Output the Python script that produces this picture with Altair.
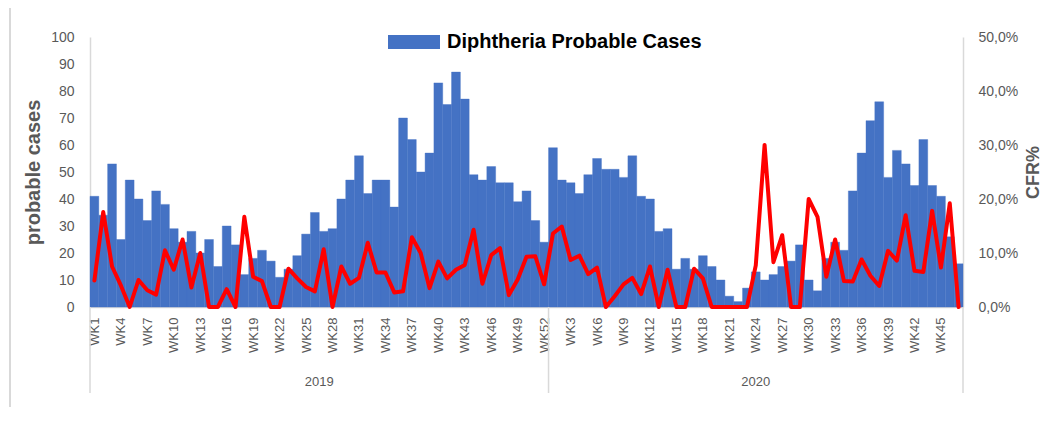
import altair as alt
import pandas as pd

# ---- data ----
years = ["2019", "2020"]
cases_2019 = [41, 34, 53, 25, 47, 40, 32, 43, 38, 29, 24, 28, 20, 25, 15, 30, 23, 12, 18, 21,
              17, 11, 14, 19, 27, 35, 28, 29, 40, 47, 56, 42, 47, 47, 37, 70, 62, 50, 57, 83,
              75, 87, 77, 49, 47, 52, 46, 46, 39, 43, 32, 24]
cfr_2019 = [4.9, 17.6, 7.5, 4.0, 0.0, 5.0, 3.1, 2.3, 10.5, 6.9, 12.5, 3.6, 10.0, 0.0, 0.0, 3.3,
            0.0, 16.7, 5.6, 4.8, 0.0, 0.0, 7.1, 5.3, 3.7, 2.9, 10.7, 0.0, 7.5, 4.3, 5.4, 11.9,
            6.4, 6.4, 2.7, 2.9, 12.9, 10.0, 3.5, 8.4, 5.3, 6.9, 7.8, 14.3, 4.3, 9.6, 10.9, 2.2,
            5.1, 9.3, 9.4, 4.2]
cases_2020 = [59, 47, 46, 42, 49, 55, 51, 51, 48, 56, 41, 40, 28, 29, 14, 18, 14, 19, 15, 10,
              4, 2, 7, 13, 10, 12, 15, 17, 23, 10, 6, 18, 24, 21, 43, 57, 69, 76, 48, 58,
              53, 45, 62, 45, 41, 26, 16]
cfr_2020 = [13.6, 14.9, 8.7, 9.5, 6.1, 7.3, 0.0, 2.0, 4.2, 5.4, 2.4, 7.5, 0.0, 6.9, 0.0, 0.0,
            7.1, 5.3, 0.0, 0.0, 0.0, 0.0, 0.0, 7.7, 30.0, 8.3, 13.3, 0.0, 0.0, 20.0, 16.7, 5.6,
            12.5, 4.8, 4.7, 8.8, 5.8, 3.9, 10.4, 8.6, 17.0, 6.7, 6.5, 17.8, 7.3, 19.2, 0.0]
series_name = "Diphtheria Probable Cases"
left_ticks = list(range(0, 101, 10))
right_ticks = list(range(0, 51, 10))

rows = []
for yr, cases, cfr in [(years[0], cases_2019, cfr_2019), (years[1], cases_2020, cfr_2020)]:
    for w, (c, f) in enumerate(zip(cases, cfr), start=1):
        i = len(rows)
        rows.append(dict(year=yr, week=f"WK{w}", cases=c, base=0, cfr=f, series=series_name,
                         x0=i, x1=i + 1, xm=i + 0.5))
df = pd.DataFrame(rows)
N = len(df)
n19 = len(cases_2019)
tick_vals = [r["xm"] for r in rows[::3]]

seps = pd.DataFrame({"b": [0, n19, N]})
year_df = pd.DataFrame({"year": years, "pos": [n19 / 2, n19 + (N - n19) / 2]})

W, H = 873, 270
GRAY = "#595959"
LINE = "#D9D9D9"
FONT = "Liberation Sans"

xscale = alt.Scale(domain=[0, N], nice=False, zero=False)
x_axis = alt.Axis(values=tick_vals, title=None, grid=False, ticks=False,
                  labelExpr=f"'WK' + (datum.value < {n19} ? floor(datum.value) + 1 : floor(datum.value) - {n19 - 1})",
                  labelAngle=270, labelFlush=False, labelOverlap=False, labelBound=False,
                  labelColor=GRAY, labelFontSize=13, labelPadding=10,
                  domainColor=LINE, domainWidth=1.5)

bars = alt.Chart(df).mark_bar(stroke="#4472C4", strokeWidth=0.4).encode(
    x=alt.X("x0:Q", scale=xscale, axis=x_axis),
    x2="x1:Q",
    y=alt.Y("cases:Q", scale=alt.Scale(domain=[0, 100], nice=False),
            axis=alt.Axis(values=left_ticks, title="probable cases", grid=False, ticks=False,
                          domainColor=LINE, domainWidth=1.5, labelColor=GRAY, labelFontSize=14,
                          labelPadding=16, titleFontSize=20, titleFontWeight="bold",
                          titleColor=GRAY, titleX=-57, titleY=H / 2, titleAngle=270,
                          titleAlign="center", titleBaseline="middle")),
    y2="base:Q",
    color=alt.Color("series:N", scale=alt.Scale(range=["#4472C4"]),
                    legend=alt.Legend(title=None, orient="none", legendX=298, legendY=-21,
                                      symbolType="M-1,-0.27H1V0.27H-1Z", symbolSize=2704,
                                      symbolStrokeWidth=0, symbolOpacity=1,
                                      labelFont=FONT, labelFontSize=20, labelFontWeight="bold",
                                      labelColor="#000000", labelOffset=7, labelLimit=600,
                                      padding=0)),
)

line = alt.Chart(df).mark_line(color="#FF0000", strokeWidth=4, strokeJoin="round",
                               strokeCap="round").encode(
    x=alt.X("xm:Q", scale=xscale, axis=x_axis),
    y=alt.Y("cfr:Q", scale=alt.Scale(domain=[0, 50], nice=False),
            axis=alt.Axis(orient="right", values=right_ticks, title="CFR%", grid=False,
                          ticks=False, domainColor=LINE, domainWidth=1.5,
                          labelExpr="replace(format(datum.value, '.1f'), '.', ',') + '%'",
                          labelColor=GRAY, labelFontSize=14, labelPadding=15,
                          titleFontSize=18, titleFontWeight="bold", titleColor=GRAY,
                          titleX=70, titleY=H / 2, titleAngle=270, titleAlign="center",
                          titleBaseline="middle")),
)

sep_rules = alt.Chart(seps).mark_rule(color=LINE, strokeWidth=1.5).encode(
    x=alt.X("b:Q", scale=xscale, axis=x_axis),
    y=alt.value(H),
    y2=alt.value(H + 86),
)

year_text = alt.Chart(year_df).mark_text(fontSize=13, color=GRAY, baseline="middle",
                                          font=FONT).encode(
    x=alt.X("pos:Q", scale=xscale, axis=x_axis),
    y=alt.value(H + 75),
    text="year:N",
)

border = alt.Chart(seps).mark_rule(color=LINE, strokeWidth=1.5).encode(
    x=alt.value(-80), y=alt.value(-29), y2=alt.value(H + 130)
)

chart = alt.layer(bars, line, sep_rules, year_text, border).resolve_scale(
    y="independent"
).properties(
    width=W, height=H,
    autosize=alt.AutoSizeParams(type="none"),
    padding={"left": 82, "top": 29, "right": 78, "bottom": 100},
).configure(font=FONT).configure_view(stroke=None)

chart.save("out.html", embed_options={"renderer": "svg", "actions": False})
